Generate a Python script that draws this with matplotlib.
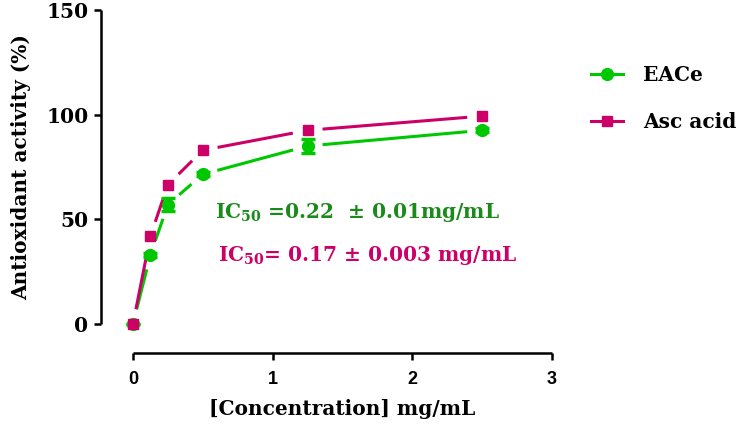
import matplotlib
matplotlib.use("Agg")
import matplotlib.pyplot as plt
from matplotlib.lines import Line2D
import numpy as np

conc = [0, 0.125, 0.25, 0.5, 1.25, 2.5]
eace = [0, 33, 57, 71.5, 85, 92.5]
eace_err = [0, 1, 3, 1, 3.5, 1]
asc = [0, 42, 66.5, 83, 92.5, 99.3]

series_names = ["EACe", "Asc acid"]
green = "#00C800"
pink = "#CC0066"
green_txt = "#1A8A1A"

xticks = [0, 1, 2, 3]
yticks = [0, 50, 100, 150]

serif = "DejaVu Serif"
sans = "Liberation Sans"

plt.rcParams['mathtext.fontset'] = 'custom'
plt.rcParams['mathtext.rm'] = 'DejaVu Serif:bold'
plt.rcParams['mathtext.it'] = 'DejaVu Serif:bold'
plt.rcParams['mathtext.bf'] = 'DejaVu Serif:bold'

fig = plt.figure(figsize=(7.39, 4.33), dpi=100)
ax = fig.add_axes([101/739, 1 - 353/433, (552-101)/739, (353-10)/433])
xmin, ymin = -0.229, -13.9
ax.set_xlim(xmin, 3)
ax.set_ylim(ymin, 150)

for s in ["top", "right"]:
    ax.spines[s].set_visible(False)
ax.spines["left"].set_bounds(0, 150)
ax.spines["bottom"].set_bounds(0, 3)
for s in ["left", "bottom"]:
    ax.spines[s].set_linewidth(1.8)
    ax.spines[s].set_capstyle("butt")

ax.set_xticks(xticks)
ax.set_yticks(yticks)
ax.tick_params(direction="out", length=5, width=1.8)
ax.set_xticklabels([str(v) for v in xticks], fontfamily=sans, fontweight="bold", fontsize=13)
ax.set_yticklabels([str(v) for v in yticks], fontfamily=serif, fontweight="bold", fontsize=14.5)
ax.tick_params(axis="y", pad=4)
ax.tick_params(axis="x", pad=8)

ax.set_xlabel("[Concentration] mg/mL", fontfamily=serif, fontweight="bold", fontsize=14.5)
ax.set_ylabel("Antioxidant activity (%)", fontfamily=serif, fontweight="bold", fontsize=14.5)
ax.xaxis.set_label_coords((1.5 - xmin) / (3 - xmin), -0.135)
ax.yaxis.set_label_coords(-0.155, (75 - ymin) / (150 - ymin))

def gapped_line(x, y, color, gap=15):
    trans = ax.transData
    inv = trans.inverted()
    pts = trans.transform(np.column_stack([x, y]))
    for i in range(len(pts) - 1):
        p0, p1 = pts[i], pts[i + 1]
        d = p1 - p0
        L = np.hypot(*d)
        if L <= 2 * gap:
            continue
        u = d / L
        a = inv.transform(p0 + u * gap)
        b = inv.transform(p1 - u * gap)
        ax.plot([a[0], b[0]], [a[1], b[1]], color=color, lw=2.2, solid_capstyle="butt", zorder=2)

gapped_line(conc, eace, green)
gapped_line(conc, asc, pink)

ax.errorbar(conc, eace, yerr=eace_err, fmt="o", color=green, ms=8.5, capsize=5,
            elinewidth=2.5, capthick=2.5, zorder=3)
ax.plot(conc, asc, linestyle="none", marker="s", color=pink, ms=7, zorder=4)

ax.text(0.587, 53, "IC$_{50}$ =0.22  \u00b1 0.01mg/mL", color=green_txt, fontfamily=serif,
        fontweight="bold", fontsize=14.5, ha="left", va="center")
ax.text(0.608, 32.5, "IC$_{50}$= 0.17 \u00b1 0.003 mg/mL", color=pink, fontfamily=serif,
        fontweight="bold", fontsize=14.5, ha="left", va="center")

handles = [Line2D([0], [0], color=green, lw=2.2, marker="o", ms=8.5),
           Line2D([0], [0], color=pink, lw=2.2, marker="s", ms=7)]
leg = fig.legend(handles, series_names, loc="upper left", bbox_to_anchor=(591/739, 1 - 65/433),
                 frameon=False, handlelength=1.6, handletextpad=1.0, labelspacing=1.35,
                 borderpad=0, borderaxespad=0,
                 prop={"family": serif, "weight": "bold", "size": 14.5})

fig.savefig("out.png", dpi=100)
